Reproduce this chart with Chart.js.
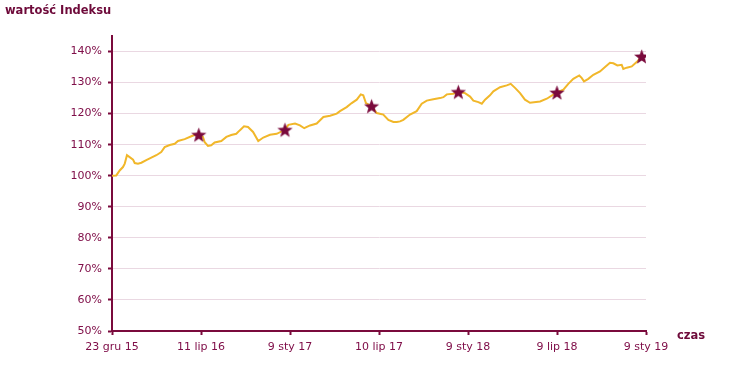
<!DOCTYPE html>
<html>
<head>
<meta charset="utf-8">
<script src="https://cdn.jsdelivr.net/npm/chart.js@4"></script>
<style>
  html, body { margin: 0; padding: 0; background: #fff; }
  #wrap { width: 744px; height: 372px; position: relative; }
</style>
</head>
<body>
<div id="wrap"><canvas id="chart" width="744" height="372"></canvas></div>
<script>
// tick labels on the time axis (one every 6 months)
const tickLabels = ['23 gru 15', '11 lip 16', '9 sty 17', '10 lip 17', '9 sty 18', '9 lip 18', '9 sty 19'];

// index line: months since start, value in %
const lineMonths = [0, 0.29, 0.52, 0.74, 0.86, 1.01, 1.19, 1.42, 1.53, 1.75,
  1.98, 2.31, 2.65, 2.99, 3.32, 3.55, 3.89, 4.23, 4.45, 4.90,
  5.35, 5.68, 5.85, 6.13, 6.25, 6.47, 6.69, 6.92, 7.37, 7.71,
  8.04, 8.38, 8.61, 8.90, 9.17, 9.51, 9.86, 10.20, 10.65, 11.10,
  11.66, 11.89, 12.34, 12.67, 12.96, 13.35, 13.80, 14.25, 14.70, 15.15,
  15.37, 15.82, 16.16, 16.50, 16.77, 16.94, 17.12, 17.5, 17.85, 18.29,
  18.63, 18.97, 19.2, 19.42, 19.64, 20.09, 20.54, 20.88, 21.22, 21.66,
  22.11, 22.34, 22.57, 23.01, 23.35, 23.80, 24.14, 24.36, 24.70, 24.93,
  25.15, 25.48, 25.71, 26.16, 26.61, 26.88, 27.17, 27.51, 27.84, 28.18,
  28.86, 29.31, 29.75, 30.0, 30.43, 30.76, 31.10, 31.50, 31.66, 31.82,
  32.11, 32.45, 32.90, 33.24, 33.57, 33.80, 34.07, 34.36, 34.47, 34.70,
  35.04, 35.37, 35.71];
const lineValues = [100.0, 100.1, 101.7, 102.8, 103.9, 106.6, 106.0, 105.2, 104.1, 103.9,
  104.2, 105.0, 105.8, 106.6, 107.6, 109.2, 109.9, 110.3, 111.2, 111.8,
  112.7, 113.3, 113.2, 112.5, 110.8, 109.6, 109.8, 110.7, 111.2, 112.5,
  113.1, 113.5, 114.6, 115.9, 115.7, 114.1, 111.2, 112.3, 113.2, 113.5,
  114.8, 116.4, 116.8, 116.2, 115.3, 116.2, 116.8, 118.9, 119.3, 120.0,
  120.8, 122.1, 123.4, 124.5, 126.2, 125.9, 123.4, 122.4, 120.2, 119.7,
  118.0, 117.3, 117.3, 117.5, 118.0, 119.7, 120.8, 123.2, 124.2, 124.6,
  125.0, 125.3, 126.2, 126.4, 127.0, 126.6, 125.5, 124.2, 123.7, 123.2,
  124.5, 125.9, 127.2, 128.5, 129.1, 129.6, 128.3, 126.6, 124.5, 123.5,
  123.9, 124.8, 126.1, 126.8, 127.7, 129.6, 131.2, 132.3, 131.5, 130.4,
  131.2, 132.5, 133.6, 135.0, 136.4, 136.2, 135.5, 135.7, 134.4, 134.8,
  135.2, 136.6, 138.4];

// star markers
const starMonths = [5.85, 11.66, 17.5, 23.35, 30.0, 35.71];
const starValues = [113.2, 114.8, 122.4, 127.0, 126.8, 138.4];

const maroon = '#7a0a3c';
const textColor = '#80104a';
const font = 'DejaVu Sans, Verdana, sans-serif';

// filled five point star used as point style
function makeStar(size, color) {
  const c = document.createElement('canvas');
  c.width = size; c.height = size;
  const g = c.getContext('2d');
  const cx = size / 2, cy = size / 2 + 0.7, R = size / 2 - 0.5, r = R * 0.42;
  g.beginPath();
  for (let i = 0; i < 10; i++) {
    const rad = i % 2 === 0 ? R : r;
    const a = -Math.PI / 2 + i * Math.PI / 5;
    g.lineTo(cx + rad * Math.cos(a), cy + rad * Math.sin(a));
  }
  g.closePath();
  g.fillStyle = color;
  g.fill();
  return c;
}
const starImg = makeStar(17, maroon);

const toPoints = (xs, ys) => xs.map((x, i) => ({ x: x, y: ys[i] }));

// texts outside the axes
const labelsPlugin = {
  id: 'labels',
  afterDraw(chart) {
    const ctx = chart.ctx;
    ctx.save();
    ctx.fillStyle = '#6e0a3a';
    ctx.font = 'bold 11.5px ' + font;
    ctx.textBaseline = 'middle';
    ctx.textAlign = 'left';
    ctx.fillText('wartość Indeksu', 5, 11);
    ctx.fillText('czas', 677, 336);
    ctx.restore();
  }
};

new Chart(document.getElementById('chart'), {
  type: 'scatter',
  data: {
    datasets: [
      {
        label: 'gwiazdki',
        data: toPoints(starMonths, starValues),
        pointStyle: starImg,
        pointRadius: 8,
        showLine: false,
        order: 0
      },
      {
        label: 'indeks',
        data: toPoints(lineMonths, lineValues),
        showLine: true,
        borderColor: '#f1b72a',
        borderWidth: 2,
        pointRadius: 0,
        tension: 0,
        order: 1
      }
    ]
  },
  options: {
    responsive: false,
    animation: false,
    layout: { padding: { top: 36, right: 98, left: 0, bottom: 0 } },
    plugins: {
      legend: { display: false },
      tooltip: { enabled: false }
    },
    scales: {
      x: {
        type: 'linear',
        min: 0,
        max: 36,
        afterFit(scale) { scale.height = 41; },
        ticks: {
          stepSize: 6,
          color: textColor,
          font: { family: font, size: 11 },
          padding: 6,
          maxRotation: 0,
          callback: v => tickLabels[v / 6]
        },
        grid: { drawOnChartArea: false, tickLength: 4, tickColor: maroon, tickWidth: 2 },
        border: { color: maroon, width: 2 }
      },
      y: {
        min: 50,
        max: 145,
        afterFit(scale) { scale.width = 112; },
        afterBuildTicks(scale) { scale.ticks = scale.ticks.filter(t => t.value <= 140); },
        ticks: {
          stepSize: 10,
          color: textColor,
          font: { family: font, size: 11 },
          padding: 6,
          callback: v => v + '%'
        },
        grid: { color: '#ead8e2', lineWidth: 1, tickLength: 4, tickColor: maroon, tickWidth: 2 },
        border: { color: maroon, width: 2 }
      }
    }
  },
  plugins: [labelsPlugin]
});
</script>
</body>
</html>
